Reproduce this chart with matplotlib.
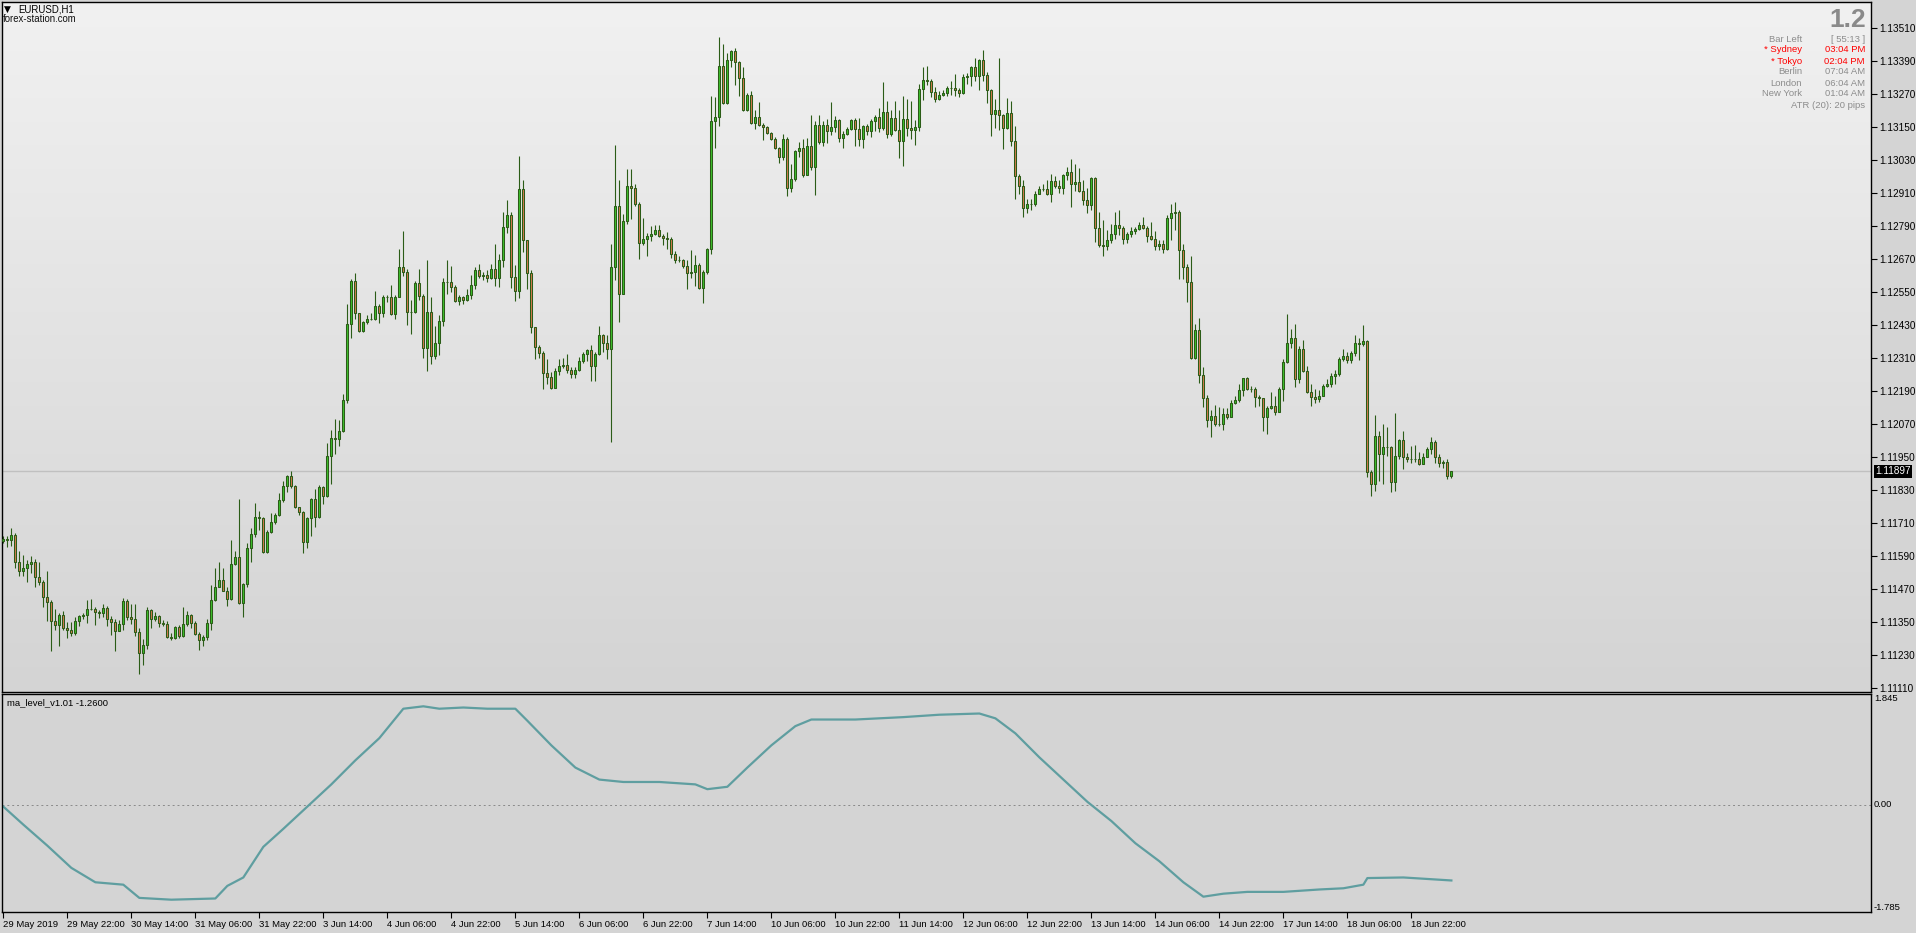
import numpy as np
import matplotlib
matplotlib.use("Agg")
import matplotlib.pyplot as plt
import matplotlib.transforms as mtrans
from matplotlib.colors import LinearSegmentedColormap

plt.rcParams['font.family'] = ['Liberation Sans', 'DejaVu Sans']

W, H = 1916, 933

# EURUSD H1 candles, 29 May 2019 06:00 .. 19 Jun 2019 08:00 (open = previous close)
first_open = 1.11642
close = [
    1.11650, 1.11648, 1.11666, 1.11567, 1.11536, 1.11545, 1.11559, 1.11568, 1.11512, 1.11496,
    1.11440, 1.11421, 1.11351, 1.11337, 1.11375, 1.11327, 1.11319, 1.11309, 1.11351, 1.11372,
    1.11376, 1.11396, 1.11396, 1.11385, 1.11382, 1.11400, 1.11360, 1.11348, 1.11315, 1.11343,
    1.11426, 1.11367, 1.11360, 1.11312, 1.11237, 1.11267, 1.11391, 1.11360, 1.11372, 1.11345,
    1.11343, 1.11294, 1.11290, 1.11330, 1.11297, 1.11342, 1.11375, 1.11345, 1.11305, 1.11285,
    1.11294, 1.11345, 1.11430, 1.11478, 1.11500, 1.11463, 1.11432, 1.11559, 1.11587, 1.11418,
    1.11487, 1.11617, 1.11668, 1.11730, 1.11726, 1.11605, 1.11676, 1.11714, 1.11738, 1.11791,
    1.11845, 1.11881, 1.11845, 1.11766, 1.11748, 1.11639, 1.11726, 1.11795, 1.11730, 1.11839,
    1.11807, 1.11953, 1.12017, 1.12014, 1.12043, 1.12156, 1.12431, 1.12588, 1.12471, 1.12408,
    1.12440, 1.12452, 1.12452, 1.12497, 1.12473, 1.12529, 1.12531, 1.12468, 1.12531, 1.12640,
    1.12622, 1.12477, 1.12477, 1.12583, 1.12535, 1.12346, 1.12477, 1.12317, 1.12365, 1.12444,
    1.12585, 1.12585, 1.12567, 1.12515, 1.12529, 1.12521, 1.12537, 1.12576, 1.12630, 1.12607,
    1.12610, 1.12601, 1.12634, 1.12601, 1.12667, 1.12785, 1.12830, 1.12604, 1.12553, 1.12924,
    1.12739, 1.12618, 1.12420, 1.12350, 1.12328, 1.12256, 1.12241, 1.12201, 1.12262, 1.12281,
    1.12283, 1.12267, 1.12250, 1.12267, 1.12299, 1.12325, 1.12337, 1.12281, 1.12323, 1.12394,
    1.12365, 1.12343, 1.12640, 1.12860, 1.12543, 1.12807, 1.12934, 1.12928, 1.12870, 1.12727,
    1.12743, 1.12751, 1.12759, 1.12773, 1.12752, 1.12746, 1.12743, 1.12686, 1.12667, 1.12664,
    1.12642, 1.12619, 1.12622, 1.12648, 1.12565, 1.12622, 1.12704, 1.13169, 1.13187, 1.13372,
    1.13237, 1.13394, 1.13426, 1.13386, 1.13327, 1.13212, 1.13267, 1.13164, 1.13184, 1.13158,
    1.13148, 1.13128, 1.13106, 1.13073, 1.13039, 1.13106, 1.12928, 1.12961, 1.13060, 1.13073,
    1.12975, 1.13079, 1.13003, 1.13157, 1.13094, 1.13157, 1.13136, 1.13148, 1.13175, 1.13109,
    1.13124, 1.13141, 1.13175, 1.13142, 1.13106, 1.13152, 1.13134, 1.13170, 1.13187, 1.13145,
    1.13205, 1.13124, 1.13182, 1.13138, 1.13097, 1.13178, 1.13145, 1.13138, 1.13148, 1.13287,
    1.13320, 1.13317, 1.13275, 1.13251, 1.13266, 1.13273, 1.13291, 1.13290, 1.13284, 1.13273,
    1.13332, 1.13336, 1.13368, 1.13334, 1.13394, 1.13338, 1.13284, 1.13197, 1.13211, 1.13193,
    1.13145, 1.13200, 1.13097, 1.12969, 1.12936, 1.12855, 1.12870, 1.12869, 1.12906, 1.12924,
    1.12924, 1.12904, 1.12951, 1.12934, 1.12927, 1.12975, 1.12985, 1.12942, 1.12948, 1.12915,
    1.12884, 1.12866, 1.12964, 1.12783, 1.12721, 1.12716, 1.12739, 1.12759, 1.12794, 1.12783,
    1.12743, 1.12761, 1.12771, 1.12777, 1.12794, 1.12783, 1.12752, 1.12743, 1.12716, 1.12725,
    1.12706, 1.12818, 1.12837, 1.12840, 1.12703, 1.12640, 1.12585, 1.12310, 1.12412, 1.12249,
    1.12162, 1.12083, 1.12099, 1.12068, 1.12069, 1.12104, 1.12093, 1.12144, 1.12156, 1.12192,
    1.12235, 1.12195, 1.12196, 1.12166, 1.12163, 1.12095, 1.12129, 1.12135, 1.12114, 1.12195,
    1.12293, 1.12365, 1.12383, 1.12232, 1.12340, 1.12262, 1.12186, 1.12168, 1.12160, 1.12172,
    1.12208, 1.12213, 1.12243, 1.12250, 1.12305, 1.12317, 1.12301, 1.12328, 1.12364, 1.12359,
    1.12371, 1.11896, 1.11850, 1.12025, 1.11959, 1.11984, 1.11984, 1.11859, 1.11954, 1.12010,
    1.11948, 1.11941, 1.11941, 1.11941, 1.11922, 1.11950, 1.11977, 1.12002, 1.11950, 1.11928,
    1.11930, 1.11881, 1.11897,
]
high = [
    1.11662, 1.11660, 1.11690, 1.11672, 1.11608, 1.11593, 1.11575, 1.11590, 1.11578, 1.11569,
    1.11503, 1.11535, 1.11430, 1.11396, 1.11382, 1.11388, 1.11348, 1.11349, 1.11367, 1.11376,
    1.11382, 1.11430, 1.11434, 1.11403, 1.11394, 1.11415, 1.11406, 1.11372, 1.11360, 1.11355,
    1.11436, 1.11432, 1.11415, 1.11415, 1.11327, 1.11287, 1.11403, 1.11396, 1.11384, 1.11375,
    1.11355, 1.11351, 1.11309, 1.11334, 1.11339, 1.11403, 1.11388, 1.11378, 1.11351, 1.11312,
    1.11303, 1.11360, 1.11484, 1.11545, 1.11569, 1.11545, 1.11478, 1.11648, 1.11609, 1.11797,
    1.11490, 1.11636, 1.11690, 1.11781, 1.11751, 1.11732, 1.11684, 1.11745, 1.11745, 1.11817,
    1.11862, 1.11884, 1.11898, 1.11847, 1.11769, 1.11751, 1.11732, 1.11799, 1.11833, 1.11847,
    1.11844, 1.11999, 1.12049, 1.12086, 1.12083, 1.12178, 1.12504, 1.12595, 1.12618, 1.12473,
    1.12444, 1.12464, 1.12474, 1.12553, 1.12504, 1.12537, 1.12537, 1.12573, 1.12537, 1.12704,
    1.12769, 1.12631, 1.12519, 1.12589, 1.12631, 1.12540, 1.12664, 1.12531, 1.12425, 1.12464,
    1.12601, 1.12664, 1.12642, 1.12573, 1.12537, 1.12533, 1.12561, 1.12612, 1.12640, 1.12652,
    1.12622, 1.12628, 1.12652, 1.12725, 1.12686, 1.12840, 1.12884, 1.12840, 1.12646, 1.13045,
    1.12957, 1.12739, 1.12630, 1.12422, 1.12358, 1.12335, 1.12304, 1.12259, 1.12271, 1.12304,
    1.12310, 1.12322, 1.12275, 1.12275, 1.12311, 1.12331, 1.12343, 1.12356, 1.12331, 1.12425,
    1.12398, 1.12394, 1.12722, 1.13085, 1.12957, 1.12831, 1.12997, 1.12997, 1.12942, 1.12876,
    1.12817, 1.12763, 1.12788, 1.12791, 1.12791, 1.12761, 1.12767, 1.12749, 1.12698, 1.12681,
    1.12670, 1.12664, 1.12700, 1.12682, 1.12655, 1.12628, 1.12710, 1.13263, 1.13259, 1.13475,
    1.13451, 1.13418, 1.13430, 1.13436, 1.13390, 1.13368, 1.13272, 1.13281, 1.13209, 1.13241,
    1.13165, 1.13151, 1.13130, 1.13112, 1.13078, 1.13124, 1.13112, 1.13013, 1.13066, 1.13094,
    1.13105, 1.13109, 1.13194, 1.13169, 1.13194, 1.13172, 1.13178, 1.13241, 1.13190, 1.13178,
    1.13136, 1.13148, 1.13178, 1.13182, 1.13182, 1.13157, 1.13160, 1.13178, 1.13193, 1.13218,
    1.13314, 1.13245, 1.13209, 1.13245, 1.13209, 1.13263, 1.13251, 1.13245, 1.13175, 1.13305,
    1.13368, 1.13372, 1.13324, 1.13296, 1.13279, 1.13284, 1.13299, 1.13318, 1.13340, 1.13290,
    1.13342, 1.13344, 1.13372, 1.13400, 1.13396, 1.13430, 1.13350, 1.13287, 1.13249, 1.13400,
    1.13196, 1.13254, 1.13245, 1.13151, 1.12979, 1.12958, 1.12888, 1.12888, 1.12915, 1.12936,
    1.12940, 1.12955, 1.12979, 1.12970, 1.12958, 1.12979, 1.13003, 1.13033, 1.13015, 1.13000,
    1.12955, 1.12928, 1.12967, 1.12967, 1.12840, 1.12809, 1.12773, 1.12795, 1.12840, 1.12846,
    1.12788, 1.12767, 1.12785, 1.12785, 1.12803, 1.12821, 1.12788, 1.12803, 1.12769, 1.12737,
    1.12737, 1.12828, 1.12870, 1.12876, 1.12846, 1.12722, 1.12652, 1.12679, 1.12434, 1.12456,
    1.12275, 1.12174, 1.12120, 1.12138, 1.12132, 1.12126, 1.12129, 1.12156, 1.12170, 1.12214,
    1.12237, 1.12241, 1.12207, 1.12204, 1.12174, 1.12162, 1.12134, 1.12185, 1.12170, 1.12202,
    1.12305, 1.12468, 1.12416, 1.12434, 1.12352, 1.12376, 1.12279, 1.12213, 1.12198, 1.12192,
    1.12214, 1.12231, 1.12253, 1.12265, 1.12311, 1.12341, 1.12331, 1.12334, 1.12392, 1.12380,
    1.12428, 1.12376, 1.11902, 1.12101, 1.12045, 1.12068, 1.12057, 1.11989, 1.12108, 1.12013,
    1.12043, 1.11965, 1.11989, 1.11993, 1.11968, 1.11962, 1.11987, 1.12020, 1.12011, 1.11960,
    1.11938, 1.11941, 1.11898,
]
low = [
    1.11636, 1.11621, 1.11627, 1.11547, 1.11518, 1.11518, 1.11496, 1.11527, 1.11475, 1.11484,
    1.11403, 1.11351, 1.11242, 1.11321, 1.11261, 1.11319, 1.11290, 1.11297, 1.11300, 1.11336,
    1.11360, 1.11345, 1.11394, 1.11339, 1.11363, 1.11369, 1.11333, 1.11303, 1.11242, 1.11315,
    1.11321, 1.11355, 1.11343, 1.11297, 1.11160, 1.11192, 1.11251, 1.11327, 1.11354, 1.11331,
    1.11333, 1.11290, 1.11282, 1.11287, 1.11292, 1.11294, 1.11334, 1.11327, 1.11303, 1.11249,
    1.11263, 1.11285, 1.11321, 1.11427, 1.11476, 1.11460, 1.11406, 1.11430, 1.11557, 1.11415,
    1.11367, 1.11478, 1.11569, 1.11657, 1.11684, 1.11599, 1.11599, 1.11674, 1.11706, 1.11735,
    1.11787, 1.11823, 1.11835, 1.11763, 1.11738, 1.11599, 1.11617, 1.11660, 1.11693, 1.11726,
    1.11778, 1.11805, 1.11850, 1.11960, 1.11989, 1.12039, 1.12146, 1.12383, 1.12452, 1.12402,
    1.12404, 1.12434, 1.12446, 1.12446, 1.12437, 1.12458, 1.12513, 1.12465, 1.12452, 1.12529,
    1.12606, 1.12428, 1.12398, 1.12471, 1.12519, 1.12310, 1.12262, 1.12289, 1.12307, 1.12319,
    1.12425, 1.12543, 1.12549, 1.12513, 1.12501, 1.12504, 1.12517, 1.12525, 1.12561, 1.12601,
    1.12592, 1.12585, 1.12598, 1.12570, 1.12567, 1.12640, 1.12763, 1.12564, 1.12517, 1.12527,
    1.12694, 1.12561, 1.12400, 1.12307, 1.12310, 1.12195, 1.12216, 1.12196, 1.12201, 1.12249,
    1.12271, 1.12253, 1.12237, 1.12235, 1.12262, 1.12291, 1.12297, 1.12226, 1.12226, 1.12319,
    1.12331, 1.12307, 1.12005, 1.12594, 1.12440, 1.12543, 1.12797, 1.12815, 1.12860, 1.12668,
    1.12719, 1.12679, 1.12734, 1.12755, 1.12749, 1.12719, 1.12706, 1.12674, 1.12656, 1.12658,
    1.12638, 1.12561, 1.12601, 1.12570, 1.12561, 1.12509, 1.12613, 1.12686, 1.13073, 1.13154,
    1.13233, 1.13233, 1.13366, 1.13303, 1.13263, 1.13206, 1.13206, 1.13160, 1.13142, 1.13154,
    1.13100, 1.13124, 1.13100, 1.13069, 1.13019, 1.13030, 1.12898, 1.12912, 1.12952, 1.13039,
    1.12967, 1.12975, 1.12991, 1.12903, 1.13088, 1.13079, 1.13090, 1.13121, 1.13130, 1.13094,
    1.13073, 1.13120, 1.13138, 1.13081, 1.13079, 1.13073, 1.13121, 1.13112, 1.13136, 1.13130,
    1.13138, 1.13108, 1.13118, 1.13134, 1.13036, 1.13007, 1.13118, 1.13106, 1.13082, 1.13133,
    1.13248, 1.13303, 1.13257, 1.13239, 1.13247, 1.13261, 1.13260, 1.13266, 1.13263, 1.13257,
    1.13269, 1.13305, 1.13299, 1.13318, 1.13285, 1.13315, 1.13235, 1.13115, 1.13145, 1.13138,
    1.13070, 1.13142, 1.13079, 1.12888, 1.12906, 1.12821, 1.12836, 1.12846, 1.12860, 1.12906,
    1.12915, 1.12900, 1.12876, 1.12927, 1.12910, 1.12906, 1.12958, 1.12858, 1.12918, 1.12912,
    1.12866, 1.12836, 1.12846, 1.12731, 1.12713, 1.12679, 1.12700, 1.12728, 1.12743, 1.12755,
    1.12725, 1.12727, 1.12749, 1.12761, 1.12773, 1.12779, 1.12731, 1.12737, 1.12700, 1.12700,
    1.12691, 1.12700, 1.12739, 1.12773, 1.12598, 1.12598, 1.12513, 1.12307, 1.12307, 1.12219,
    1.12132, 1.12059, 1.12023, 1.12062, 1.12063, 1.12047, 1.12089, 1.12093, 1.12141, 1.12150,
    1.12170, 1.12192, 1.12186, 1.12132, 1.12134, 1.12045, 1.12033, 1.12124, 1.12101, 1.12111,
    1.12154, 1.12291, 1.12346, 1.12204, 1.12219, 1.12259, 1.12180, 1.12134, 1.12144, 1.12150,
    1.12170, 1.12202, 1.12204, 1.12216, 1.12243, 1.12298, 1.12291, 1.12291, 1.12316, 1.12301,
    1.12353, 1.11878, 1.11809, 1.11827, 1.11862, 1.11850, 1.11953, 1.11820, 1.11827, 1.11941,
    1.11904, 1.11932, 1.11928, 1.11932, 1.11920, 1.11922, 1.11950, 1.11960, 1.11928, 1.11914,
    1.11908, 1.11869, 1.11874,
]

# ma_level indicator, read at these bar indices
ma_idx = [0, 5, 11, 17, 23, 30, 34, 42, 53, 56, 60, 65, 70, 76, 82, 88, 94, 100, 105,
          109, 115, 121, 128, 131, 137, 143, 149, 155, 164, 173, 176, 181, 186, 192,
          198, 202, 213, 225, 234, 244, 248, 253, 259, 265, 271, 277, 283, 289, 295,
          300, 305, 311, 320, 329, 335, 340, 341, 350, 362]
ma_val = [-0.03, -0.33, -0.68, -1.05, -1.29, -1.33, -1.55, -1.58, -1.56, -1.35, -1.21,
          -0.70, -0.40, -0.03, 0.34, 0.74, 1.11, 1.60, 1.64, 1.60, 1.62, 1.60, 1.60,
          1.40, 0.99, 0.62, 0.42, 0.38, 0.38, 0.34, 0.26, 0.30, 0.62, 0.99, 1.31, 1.42,
          1.42, 1.46, 1.50, 1.52, 1.44, 1.19, 0.79, 0.42, 0.05, -0.27, -0.64, -0.94,
          -1.29, -1.53, -1.48, -1.45, -1.45, -1.41, -1.39, -1.33, -1.22, -1.21, -1.26]

price_ticks = [1.13510, 1.13390, 1.13270, 1.13150, 1.13030, 1.12910, 1.12790,
               1.12670, 1.12550, 1.12430, 1.12310, 1.12190, 1.12070, 1.11950,
               1.11830, 1.11710, 1.11590, 1.11470, 1.11350, 1.11230, 1.11110]
time_labels = ["29 May 2019", "29 May 22:00", "30 May 14:00", "31 May 06:00",
               "31 May 22:00", "3 Jun 14:00", "4 Jun 06:00", "4 Jun 22:00",
               "5 Jun 14:00", "6 Jun 06:00", "6 Jun 22:00", "7 Jun 14:00",
               "10 Jun 06:00", "10 Jun 22:00", "11 Jun 14:00", "12 Jun 06:00",
               "12 Jun 22:00", "13 Jun 14:00", "14 Jun 06:00", "14 Jun 22:00",
               "17 Jun 14:00", "18 Jun 06:00", "18 Jun 22:00"]
bid = 1.11897
ma_last = -1.2600
ma_max, ma_min = 1.845, -1.785

sessions = [("Bar Left", "[ 55:13 ]", "#8c8c8c"),
            ("* Sydney", "03:04 PM", "#ff0000"),
            ("* Tokyo", "02:04 PM", "#ff0000"),
            ("Berlin", "07:04 AM", "#8c8c8c"),
            ("London", "06:04 AM", "#8c8c8c"),
            ("New York", "01:04 AM", "#8c8c8c")]

# ---- figure ----
fig = plt.figure(figsize=(W / 100, H / 100), dpi=100, facecolor='#d4d4d4')


def rect(x0, y0, x1, y1):
    return [x0 / W, 1 - y1 / H, (x1 - x0) / W, (y1 - y0) / H]


ax = fig.add_axes(rect(2, 2, 1871, 692))
ax2 = fig.add_axes(rect(2, 694, 1871, 912), sharex=ax)

close = np.array(close)
high = np.array(high)
low = np.array(low)
opens = np.r_[first_open, close[:-1]]
n = len(close)
xs = np.arange(n)

xlim = (-0.33, 466.9)
ylim = (1.110945, 1.136035)

grad = LinearSegmentedColormap.from_list('bg', ['#d4d4d4', '#f1f1f1'])
ax.imshow(np.linspace(0, 1, 256).reshape(-1, 1), extent=[xlim[0], xlim[1], ylim[0], ylim[1]],
          aspect='auto', cmap=grad, origin='lower', zorder=0)

edge = '#2b5c17'
up = close >= opens
body_lo = np.minimum(opens, close)
body_h = np.abs(close - opens)
ax.axhline(bid, color='#c0c0c0', lw=1.0, zorder=1)
ax.vlines(xs, np.minimum(low, body_lo), np.maximum(high, body_lo + body_h),
          color=edge, lw=0.8, zorder=2)
ax.bar(xs, body_h, bottom=body_lo, width=0.55,
       color=np.where(up, '#3dbe2c', '#d27a4e'), edgecolor=edge, linewidth=0.75, zorder=3)

ax.set_xlim(*xlim)
ax.set_ylim(*ylim)
ax.yaxis.tick_right()
ax.set_yticks(price_ticks)
ax.set_yticklabels([f"{p:.5f}" for p in price_ticks])
ax.tick_params(axis='y', direction='out', length=4, width=0.8, pad=2, labelsize=7.2)
ax.tick_params(axis='x', bottom=False, labelbottom=False)

tr = mtrans.blended_transform_factory(ax.transAxes, ax.transData)
ax.text(1.0, bid, f"{bid:.5f}", transform=mtrans.offset_copy(tr, fig=fig, x=4, y=0, units='dots'),
        ha='left', va='center', color='white', fontsize=7.2,
        bbox=dict(boxstyle='square,pad=0.12', fc='black', ec='none'), clip_on=False, zorder=5)

# ---- indicator window ----
ax2.set_facecolor('#d4d4d4')
ax2.axhline(0, color='#8a8a8a', lw=0.7, ls=(0, (2, 3)))
ax2.plot(ma_idx, ma_val, color='#5f9ea0', lw=1.6)
ax2.set_ylim(ma_min, ma_max)
ax2.set_yticks([])
ax2.set_xticks(np.arange(len(time_labels)) * 16)
ax2.set_xticklabels(time_labels)
ax2.tick_params(axis='x', direction='out', length=4, width=0.8, pad=1.5, labelsize=6.8)
for t in ax2.get_xticklabels():
    t.set_ha('left')

tr2 = mtrans.offset_copy(mtrans.blended_transform_factory(ax2.transAxes, ax2.transData),
                         fig=fig, x=3, y=0, units='dots')
ax2.text(1.0, ma_max, f"{ma_max:.3f}", transform=tr2, ha='left', va='top', fontsize=6.8, clip_on=False)
ax2.text(1.0, 0, "0.00", transform=tr2, ha='left', va='center', fontsize=6.8, clip_on=False)
ax2.text(1.0, ma_min, f"{ma_min:.3f}", transform=tr2, ha='left', va='bottom', fontsize=6.8, clip_on=False)

for a in (ax, ax2):
    for s in a.spines.values():
        s.set_color('black')
        s.set_linewidth(1.0)

# ---- labels ----
def ftext(x, y, s, **kw):
    fig.text(x / W, 1 - y / H, s, **kw)


ftext(4, 9, "\u25bc", fontsize=6.5, family='DejaVu Sans', va='center')
ftext(18, 9, "EURUSD,H1", fontsize=6.9, va='center')
ftext(3, 18.5, "forex-station.com", fontsize=6.9, va='center', color='#111111')
ftext(1866, 27, "1.2", fontsize=19, weight='bold', color='#8a8a8a', ha='right', va='baseline')
for k, (name, val, col) in enumerate(sessions):
    yy = 39 + 11 * k
    ftext(1802, yy, name, fontsize=6.8, color=col, ha='right', va='center')
    ftext(1865, yy, val, fontsize=6.8, color=col, ha='right', va='center')
ftext(1865, 105.5, "ATR (20): 20 pips", fontsize=6.8, color='#8c8c8c', ha='right', va='center')
ftext(7, 703, f"ma_level_v1.01 {ma_last:.4f}", fontsize=6.8, va='center')

fig.savefig("out.png", dpi=100, facecolor=fig.get_facecolor())
